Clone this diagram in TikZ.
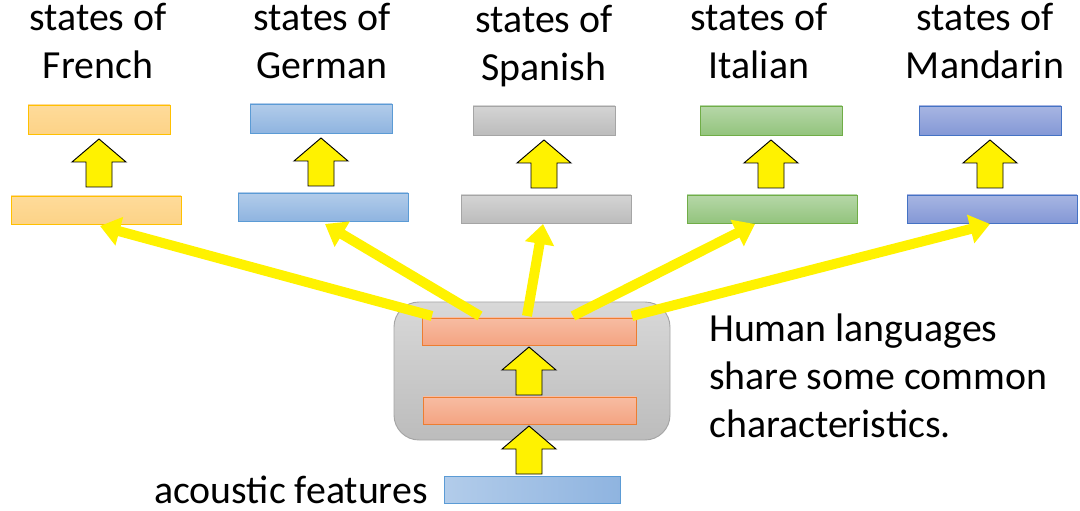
\documentclass[tikz,border=0pt]{standalone}
\usepackage{fontspec}
\setmainfont{Carlito}
\usetikzlibrary{arrows.meta}
\begin{document}
\begin{tikzpicture}[x=0.03cm,y=-0.03cm,
 lbl/.style={font=\fontsize{34}{41}\selectfont,inner sep=0pt,align=center},
 yl/.style={draw=yellow,line width=0.3cm,-{Triangle[width=0.85cm,length=0.6cm]}},
 pics/blk/.style={code={\draw[fill=yellow,line width=0.8pt] (-13,0)--(-13,-25)--(-27,-25)--(0,-48)--(27,-25)--(13,-25)--(13,0)--cycle;}}]
\useasboundingbox (0,0) rectangle (1080,511);
\definecolor{orgT}{HTML}{FEDB9A}\definecolor{orgB}{HTML}{FDD387}\definecolor{orgD}{HTML}{FFC000}
\definecolor{bluT}{HTML}{B2CCEA}\definecolor{bluB}{HTML}{8FB4E0}\definecolor{bluD}{HTML}{5B9BD5}
\definecolor{gryT}{HTML}{D4D4D4}\definecolor{gryB}{HTML}{BCBCBC}\definecolor{gryD}{HTML}{A5A5A5}
\definecolor{grnT}{HTML}{B6D7A8}\definecolor{grnB}{HTML}{93C47D}\definecolor{grnD}{HTML}{70AD47}
\definecolor{purT}{HTML}{A7B5E2}\definecolor{purB}{HTML}{8498D6}\definecolor{purD}{HTML}{4472C4}
\definecolor{salT}{HTML}{F7BCA2}\definecolor{salB}{HTML}{F4A482}\definecolor{salD}{HTML}{ED7D31}
\tikzset{bx/.style={draw=#1D,line width=0.8pt,top color=#1T,bottom color=#1B}}
% gray block
\draw[draw=gryD,top color=gryT!90!white,bottom color=gryB,rounded corners=0.75cm,line width=0.8pt] (394,302) rectangle (670,440);
% language boxes
\foreach \n/\c/\xt/\yt/\xb/\yb/\lx/\ly/\nm in {
 fr/org/28/105/11/196/98/3/French,
 de/blu/250/104/238/193/322/3/German,
 es/gry/473/106/461/195/544/5/Spanish,
 it/grn/700/106/687/195/759/3/Italian,
 zh/pur/919/106/907/195/985/3/Mandarin}{
 \draw[bx=\c] (\xt,\yt) rectangle ++(142,29);
 \draw[bx=\c] (\xb,\yb) rectangle ++(170,28);
 \pic at (\xt+71,\yt+82) {blk};
 \node[lbl,anchor=north] (t\n) at (\lx,\ly) {states of\\\nm};
}
\draw[bx=sal] (422,318) rectangle (636,345);
\draw[bx=sal] (423,397) rectangle (636,424);
\draw[draw=bluD,line width=0.8pt,left color=bluT,right color=bluB] (444,476) rectangle (620,503);
\pic at (529,395) {blk};
\pic at (529,474) {blk};
% yellow arrows
\coordinate (s1) at (432,316);\coordinate (e1) at (100,226);
\coordinate (s2) at (480,316);\coordinate (e2) at (325,224);
\coordinate (s3) at (527,316);\coordinate (e3) at (543,224);
\coordinate (s4) at (573,316);\coordinate (e4) at (755,224);
\coordinate (s5) at (632,316);\coordinate (e5) at (990,224);
\foreach \i in {1,...,5}{\draw[yl] (s\i)--(e\i);}
\node[lbl,anchor=north west,align=left] (hl) at (709,314) {Human languages\\share some common\\characteristics.};
\node[lbl,anchor=east] (af) at (428,490) {acoustic features};
\end{tikzpicture}
\end{document}
